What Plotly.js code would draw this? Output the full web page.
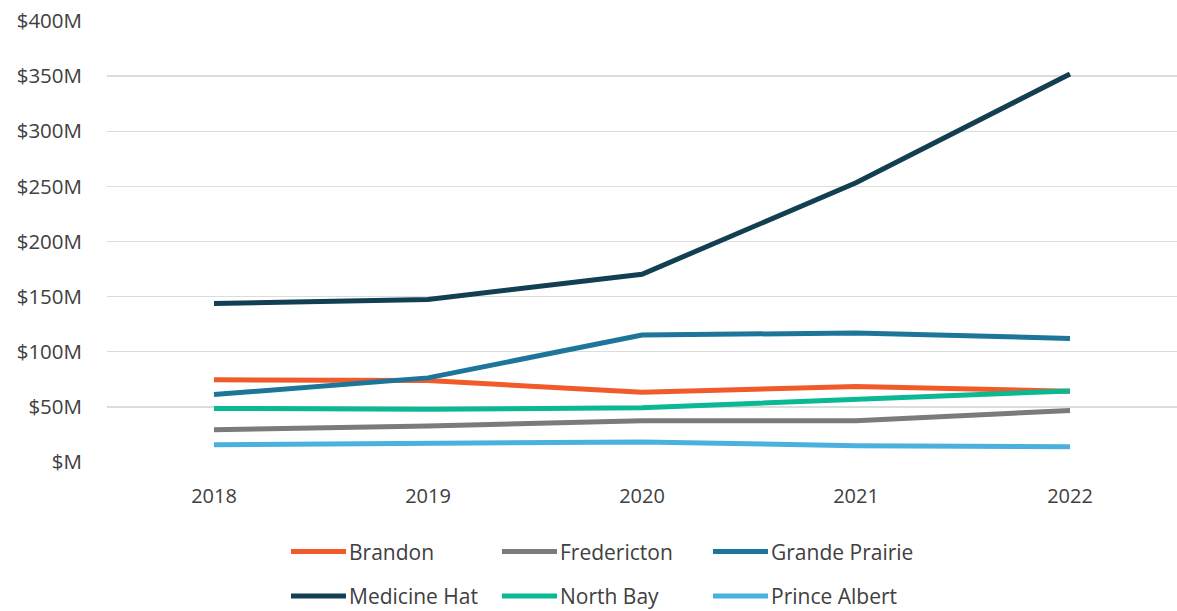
<!DOCTYPE html>
<html>
<head>
<meta charset="utf-8">
<script src="https://cdn.plot.ly/plotly-3.0.1.min.js"></script>
<style>
  html, body { margin: 0; padding: 0; background: #ffffff; }
  #chart { width: 1177px; height: 611px; }
</style>
</head>
<body>
<div id="chart"></div>
<script>
// Years on the horizontal axis
const years = ['2018', '2019', '2020', '2021', '2022'];

// Values per city, in millions of dollars
const brandon       = [74.5, 73.9, 63.3, 68.4, 64.2];
const fredericton   = [29.3, 32.6, 37.4, 37.4, 46.7];
const grandePrairie = [61.2, 76.3, 115.2, 117.0, 112.1];
const medicineHat   = [143.8, 147.4, 170.3, 253.2, 352.0];
const northBay      = [48.6, 47.9, 49.2, 56.4, 64.5];
const princeAlbert  = [15.7, 17.2, 18.1, 14.8, 13.9];

const cityNames  = ['Brandon', 'Fredericton', 'Grande Prairie', 'Medicine Hat', 'North Bay', 'Prince Albert'];
const cityValues = [brandon, fredericton, grandePrairie, medicineHat, northBay, princeAlbert];
const cityColors = ['#F15B2A', '#7B7B7B', '#1D7699', '#133F52', '#0AB893', '#4AB1DE'];

// Y axis ticks
const yTickVals = [0, 50, 100, 150, 200, 250, 300, 350, 400];
const yTickText = ['$M', '$50M', '$100M', '$150M', '$200M', '$250M', '$300M', '$350M', '$400M'];

const FONT = 'Open Sans, Noto Sans, sans-serif';
const TEXT_COLOR = '#404040';

const W = 1177, H = 611;
const margin = { l: 107, r: 0, t: 21, b: 149 };
const plotW = W - margin.l - margin.r;
const plotH = H - margin.t - margin.b;

const traces = cityNames.map((name, i) => ({
  type: 'scatter',
  mode: 'lines',
  name: name,
  x: years,
  y: cityValues[i],
  line: { color: cityColors[i], width: 5 },
  showlegend: false,
  hoverinfo: 'x+y+name'
}));

// Legend drawn below the plot: three columns, two rows
const legendCols = [291, 502, 713];   // left edge of each sample line, px
const legendRows = [551.5, 596];      // vertical centre of each row, px
const sampleLen = 55, textGap = 1;
const px2x = p => (p - margin.l) / plotW;
const px2y = p => (margin.t + plotH - p) / plotH;

const shapes = [];
const annotations = [];
cityNames.forEach((name, i) => {
  const col = i % 3, row = Math.floor(i / 3);
  const x0 = legendCols[col], yc = legendRows[row];
  shapes.push({
    type: 'line', xref: 'paper', yref: 'paper',
    x0: px2x(x0), x1: px2x(x0 + sampleLen), y0: px2y(yc), y1: px2y(yc),
    line: { color: cityColors[i], width: 5 }
  });
  annotations.push({
    xref: 'paper', yref: 'paper',
    x: px2x(x0 + sampleLen + textGap), y: px2y(yc),
    xanchor: 'left', yanchor: 'middle', showarrow: false,
    text: name,
    font: { family: FONT, size: 21, color: TEXT_COLOR }
  });
});

const layout = {
  width: W, height: H,
  margin: margin,
  paper_bgcolor: '#ffffff',
  plot_bgcolor: '#ffffff',
  showlegend: false,
  font: { family: FONT, size: 20, color: TEXT_COLOR },
  xaxis: {
    type: 'category',
    range: [-0.5, 4.5],
    showgrid: false,
    zeroline: false,
    showline: false,
    ticks: '',
    ticklabelstandoff: 20,
    tickfont: { family: FONT, size: 20, color: TEXT_COLOR },
    fixedrange: true
  },
  yaxis: {
    range: [0, 400],
    tickvals: yTickVals,
    ticktext: yTickText,
    showgrid: true,
    gridcolor: '#D9DEDC',
    gridwidth: 1.3,
    zeroline: false,
    showline: false,
    ticks: '',
    ticklabelstandoff: 24,
    tickfont: { family: FONT, size: 20.5, color: TEXT_COLOR },
    fixedrange: true
  },
  shapes: shapes,
  annotations: annotations
};

Plotly.newPlot('chart', traces, layout, { displayModeBar: false, staticPlot: true });
</script>
</body>
</html>
